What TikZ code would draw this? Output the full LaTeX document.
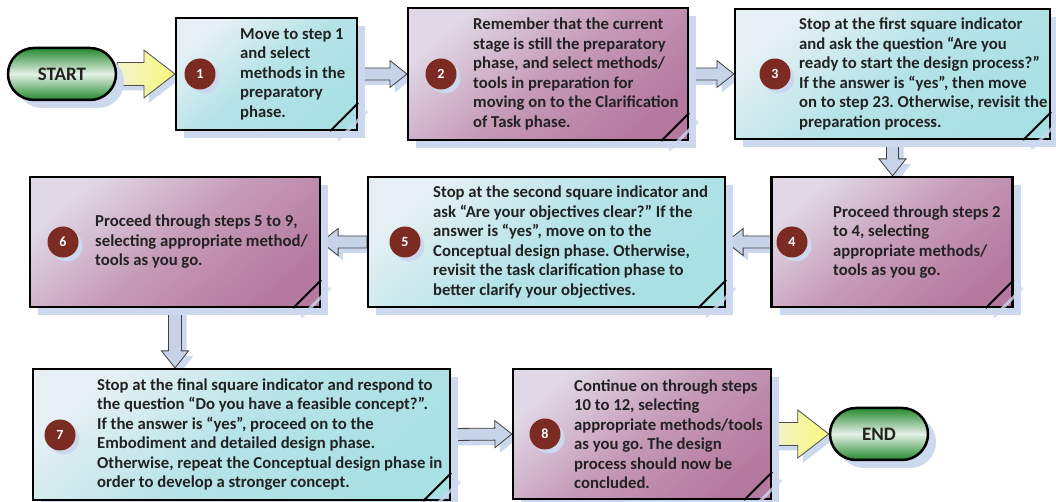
\documentclass[tikz,border=0pt]{standalone}
\usepackage{fontspec}
\setmainfont{Carlito}
\usetikzlibrary{calc}
\usetikzlibrary{shapes.misc}
\usetikzlibrary{shadows}
\pgfdeclarelayer{background}
\pgfsetlayers{background,main}
\definecolor{cyanlight}{HTML}{E6F0F4}
\definecolor{cyandark}{HTML}{A9E0E4}
\definecolor{pinklight}{HTML}{E0D8E6}
\definecolor{pinkmid}{HTML}{C69BB8}
\definecolor{pinkdark}{HTML}{B5799F}
\definecolor{numred}{HTML}{7B2B22}
\definecolor{shadowblue}{HTML}{CBD8EE}
\definecolor{pillgreen}{HTML}{24892F}
\definecolor{arrowblue}{HTML}{C6D3E8}
\definecolor{yellowlight}{HTML}{F2F2CC}
\definecolor{yellowdark}{HTML}{F8F87C}
\definecolor{textdark}{HTML}{222222}
\newcommand{\conarrow}[6]{ \coordinate (hb) at ($(#3)!#6!(#2)$); \draw[#1] ($(#2)!#4!90:(#3)$) -- ($(hb)!#4!90:(#3)$) -- ($(hb)!#5!90:(#3)$) -- (#3) -- ($(hb)!#5!-90:(#3)$) -- ($(hb)!#4!-90:(#3)$) -- ($(#2)!#4!-90:(#3)$) -- cycle;}
\newcommand{\fold}[1]{ \draw[shadowblue, line width=3pt, opacity=0.8] ($(#1.south east)+(-20,-9)$) -- ($(#1.south east)+(9,20)$); \draw[line width=2pt] ($(#1.south east)+(-28,0)$) -- ($(#1.south east)+(0,28)$);}
\frenchspacing

\begin{document}
\begin{tikzpicture}[x=1pt, y=1pt,
    boxshadow/.style={drop shadow={shadow xshift=8pt, shadow yshift=-8pt, fill=shadowblue, opacity=1}},
    stepbox/.style={draw=black, line width=2.2pt, rectangle, inner sep=0pt, boxshadow},
    cyanbox/.style={stepbox, top color=cyanlight, bottom color=cyandark, middle color=cyandark!80!cyanlight, shading angle=40},
    pinkbox/.style={stepbox, top color=pinklight, bottom color=pinkdark, middle color=pinkmid, shading angle=40},
    numcircle/.style={circle, fill=numred, text=white, minimum size=31pt, inner sep=0pt, font=\bfseries\fontsize{14}{14}\selectfont, drop shadow={shadow xshift=4pt, shadow yshift=-4pt, fill=shadowblue, opacity=1}},
    steptext/.style={anchor=west, align=left, inner sep=0pt, text=textdark, font=\bfseries\fontsize{16.7}{19.5}\selectfont},
    pill/.style={rounded rectangle, draw=black, line width=2.5pt, minimum height=52pt, inner sep=0pt, top color=pillgreen, bottom color=pillgreen, middle color=white!88!pillgreen, text=textdark, font=\bfseries\fontsize{19}{19}\selectfont, boxshadow},
    yellowarrow/.style={draw=black!70, line width=0.8pt, left color=yellowlight, right color=yellowdark, drop shadow={shadow xshift=5pt, shadow yshift=-5pt, fill=shadowblue, opacity=1}},
    bluearrow/.style={draw=black!75, line width=0.8pt, fill=arrowblue, drop shadow={shadow xshift=5pt, shadow yshift=-5pt, fill=shadowblue, opacity=1}}]
    \useasboundingbox (0,0) rectangle (1056,502);
    % row 1
    \node[pill, minimum width=108pt] (startpill) at (62,428) {START};
    \node[cyanbox, minimum width=181pt, minimum height=112pt] (b1) at (266.5,428) {};
    \node[pinkbox, minimum width=280pt, minimum height=132pt] (b2) at (548,428) {};
    \node[cyanbox, minimum width=315pt, minimum height=130pt] (b3) at (892.5,428) {};
    % row 2
    \node[pinkbox, minimum width=241pt, minimum height=130pt] (b4) at (892,260) {};
    \node[cyanbox, minimum width=357pt, minimum height=130pt] (b5) at (546.5,260) {};
    \node[pinkbox, minimum width=290pt, minimum height=130pt] (b6) at (175,260) {};
    % row 3
    \node[cyanbox, minimum width=417pt, minimum height=131pt] (b7) at (241.5,67.5) {};
    \node[pinkbox, minimum width=258pt, minimum height=130pt] (b8) at (642,68) {};
    \node[pill, minimum width=98pt] (endpill) at (879,68) {END};
    % folded corners
    \fold{b1} \fold{b2} \fold{b3} \fold{b4}
    \fold{b5} \fold{b6} \fold{b7} \fold{b8}
    % numbers
    \node[numcircle] (c1) at (200,428) {1};
    \node[numcircle] (c2) at (441,428) {2};
    \node[numcircle] (c3) at (775,428) {3};
    \node[numcircle] (c4) at (792,260) {4};
    \node[numcircle] (c5) at (405,260) {5};
    \node[numcircle] (c6) at (63,260) {6};
    \node[numcircle] (c7) at (60,67) {7};
    \node[numcircle] (c8) at (545,68) {8};
    % texts
    \node[steptext] (t1) at (240,428) {Move to step 1\\and select\\methods in the\\preparatory\\phase.};
    \node[steptext] (t2) at (473,428) {Remember that the current\\stage is still the preparatory\\phase, and select methods/\\tools in preparation for\\moving on to the Clarification\\of Task phase.};
    \node[steptext] (t3) at (799,428) {Stop at the first square indicator\\and ask the question “Are you\\ready to start the design process?”\\If the answer is “yes”, then move\\on to step 23. Otherwise, revisit the\\preparation process.};
    \node[steptext] (t4) at (833,260) {Proceed through steps 2\\to 4, selecting\\appropriate methods/\\tools as you go.};
    \node[steptext] (t5) at (433,260) {Stop at the second square indicator and\\ask “Are your objectives clear?” If the\\answer is “yes”, move on to the\\Conceptual design phase. Otherwise,\\revisit the task clarification phase to\\better clarify your objectives.};
    \node[steptext] (t6) at (95,260) {Proceed through steps 5 to 9,\\selecting appropriate method/\\tools as you go.};
    \node[steptext] (t7) at (97,67.5) {Stop at the final square indicator and respond to\\the question “Do you have a feasible concept?”.\\If the answer is “yes”, proceed on to the\\Embodiment and detailed design phase.\\Otherwise, repeat the Conceptual design phase in\\order to develop a stronger concept.};
    \node[steptext] (t8) at (574,68) {Continue on through steps\\10 to 12, selecting\\appropriate methods/tools\\as you go. The design\\process should now be\\concluded.};
    % arrows
    \begin{pgfonlayer}{background}
        \conarrow{yellowarrow}{startpill.east}{b1.west}{11.5pt}{24pt}{31pt}
        \conarrow{bluearrow}{b1.east}{b2.west}{6pt}{13.5pt}{17pt}
        \conarrow{bluearrow}{b2.east}{b3.west}{6pt}{13.5pt}{17pt}
        \conarrow{bluearrow}{b3.south}{b3.south |- b4.north}{6pt}{13.5pt}{17pt}
        \conarrow{bluearrow}{b4.west}{b5.east}{6pt}{13.5pt}{17pt}
        \conarrow{bluearrow}{b5.west}{b6.east}{6pt}{13.5pt}{17pt}
        \conarrow{bluearrow}{b6.south}{b6.south |- b7.north}{6.5pt}{13.5pt}{17pt}
        \conarrow{bluearrow}{b7.east}{b8.west}{6pt}{13.5pt}{17pt}
        \conarrow{yellowarrow}{b8.east}{endpill.west}{11.5pt}{24pt}{31pt}
    \end{pgfonlayer}
\end{tikzpicture}
\end{document}
